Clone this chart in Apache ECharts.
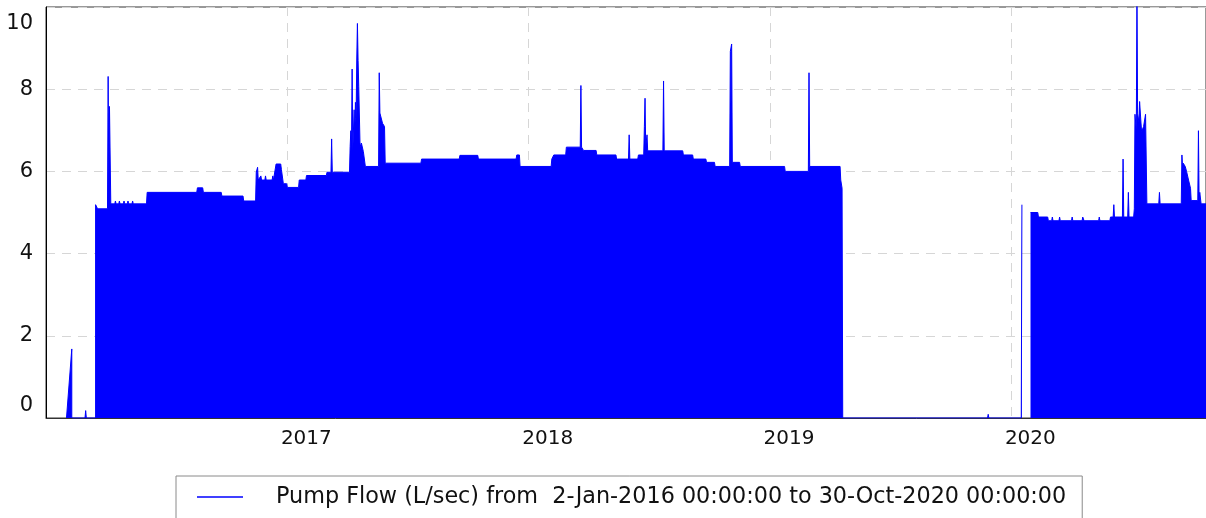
<!DOCTYPE html>
<html>
<head>
<meta charset="utf-8">
<script src="https://cdn.jsdelivr.net/npm/echarts@6/dist/echarts.min.js"></script>
<style>
  html, body { margin: 0; padding: 0; background: #fff; }
  #main-chart { width: 1206px; height: 518px; }
</style>
</head>
<body>
<div id="main-chart"></div>
<script>
// envelope of the pump flow record (date, L/sec)
const flow2016 = [
    ['2016-02-02', 0], ['2016-02-10', 1.68], ['2016-02-10', 0],
    ['2016-03-01', 0], ['2016-03-02', 0.18], ['2016-03-03', 0],
    ['2016-03-17', 0], ['2016-03-17', 5.19], ['2016-03-20', 5.19], ['2016-03-20', 5.09],
    ['2016-04-04', 5.09], ['2016-04-05', 8.31], ['2016-04-06', 5.6], ['2016-04-07', 7.58],
    ['2016-04-08', 7.58], ['2016-04-09', 5.21],
    ['2016-04-15', 5.21], ['2016-04-16', 5.28], ['2016-04-17', 5.21],
    ['2016-04-21', 5.21], ['2016-04-22', 5.28], ['2016-04-23', 5.21],
    ['2016-04-28', 5.21], ['2016-04-29', 5.28], ['2016-04-30', 5.21],
    ['2016-05-04', 5.21], ['2016-05-05', 5.28], ['2016-05-06', 5.21],
    ['2016-05-11', 5.21], ['2016-05-12', 5.28], ['2016-05-13', 5.21],
    ['2016-06-02', 5.21], ['2016-06-03', 5.49],
    ['2016-08-17', 5.49], ['2016-08-18', 5.60], ['2016-08-26', 5.60], ['2016-08-27', 5.49],
    ['2016-09-23', 5.49], ['2016-09-24', 5.40], ['2016-10-26', 5.40], ['2016-10-27', 5.28],
    ['2016-11-14', 5.28], ['2016-11-15', 5.98], ['2016-11-17', 6.10], ['2016-11-18', 5.79],
    ['2016-11-21', 5.79], ['2016-11-22', 5.89], ['2016-11-23', 5.79],
    ['2016-11-28', 5.79], ['2016-11-29', 5.89], ['2016-11-30', 5.79],
    ['2016-12-09', 5.79], ['2016-12-10', 5.89], ['2016-12-11', 5.79],
    ['2016-12-14', 5.79], ['2016-12-15', 6.18], ['2016-12-22', 6.18], ['2016-12-23', 6.05],
    ['2016-12-25', 6.05], ['2016-12-26', 5.70], ['2016-12-31', 5.70]
];
const flow2017 = [
    ['2017-01-01', 5.61], ['2017-01-18', 5.61], ['2017-01-19', 5.79], ['2017-01-29', 5.79],
    ['2017-01-30', 5.90], ['2017-03-01', 5.90], ['2017-03-02', 5.98], ['2017-03-08', 5.98],
    ['2017-03-09', 6.79], ['2017-03-10', 5.98],
    ['2017-04-05', 5.98], ['2017-04-06', 6.6], ['2017-04-07', 6.99], ['2017-04-08', 6.5],
    ['2017-04-09', 8.49], ['2017-04-10', 6.5], ['2017-04-12', 7.50], ['2017-04-13', 6.9],
    ['2017-04-14', 7.68], ['2017-04-15', 7.3], ['2017-04-16', 8.71], ['2017-04-17', 9.6],
    ['2017-04-18', 8.7], ['2017-04-19', 8.07], ['2017-04-21', 6.6], ['2017-04-23', 6.69],
    ['2017-04-26', 6.48], ['2017-04-29', 6.12],
    ['2017-05-19', 6.12], ['2017-05-20', 8.40], ['2017-05-21', 7.42], ['2017-05-25', 7.17],
    ['2017-05-28', 7.09], ['2017-05-29', 6.20],
    ['2017-07-22', 6.20], ['2017-07-23', 6.30], ['2017-09-18', 6.30], ['2017-09-19', 6.39],
    ['2017-10-16', 6.39], ['2017-10-17', 6.30], ['2017-12-13', 6.30], ['2017-12-14', 6.40],
    ['2017-12-18', 6.40], ['2017-12-19', 6.12]
];
const flow2018 = [
    ['2018-02-04', 6.12], ['2018-02-05', 6.30], ['2018-02-07', 6.30], ['2018-02-08', 6.40],
    ['2018-02-26', 6.40], ['2018-02-27', 6.59], ['2018-03-20', 6.59], ['2018-03-21', 8.09],
    ['2018-03-22', 6.59], ['2018-03-24', 6.59], ['2018-03-25', 6.51], ['2018-04-13', 6.51],
    ['2018-04-14', 6.40], ['2018-05-13', 6.40], ['2018-05-14', 6.30], ['2018-06-01', 6.30],
    ['2018-06-02', 6.89], ['2018-06-03', 6.30], ['2018-06-15', 6.30], ['2018-06-16', 6.40],
    ['2018-06-24', 6.40], ['2018-06-25', 7.09], ['2018-06-26', 7.78], ['2018-06-27', 6.6],
    ['2018-06-29', 6.89], ['2018-06-30', 6.50], ['2018-07-23', 6.50], ['2018-07-24', 8.20],
    ['2018-07-25', 6.50], ['2018-08-22', 6.50], ['2018-08-23', 6.40], ['2018-09-06', 6.40],
    ['2018-09-07', 6.30], ['2018-09-26', 6.30], ['2018-09-27', 6.22], ['2018-10-09', 6.22],
    ['2018-10-10', 6.12], ['2018-11-01', 6.12], ['2018-11-02', 8.92], ['2018-11-04', 9.10],
    ['2018-11-05', 6.22], ['2018-11-16', 6.22], ['2018-11-17', 6.12]
];
const flow2019 = [
    ['2019-01-23', 6.12], ['2019-01-24', 6.00], ['2019-02-28', 6.00], ['2019-03-01', 8.40],
    ['2019-03-02', 6.12], ['2019-04-17', 6.12], ['2019-04-18', 5.79], ['2019-04-20', 5.59],
    ['2019-04-21', 5.59], ['2019-04-21', 0], ['2019-11-26', 0], ['2019-11-27', 0.09],
    ['2019-11-28', 0]
];
const flow2020 = [
    ['2020-01-16', 0], ['2020-01-17', 5.19], ['2020-01-18', null],
    ['2020-01-30', 5.00], ['2020-02-10', 5.00], ['2020-02-11', 4.89], ['2020-02-25', 4.89],
    ['2020-02-26', 4.80], ['2020-03-02', 4.80], ['2020-03-03', 4.89], ['2020-03-04', 4.80],
    ['2020-03-13', 4.80], ['2020-03-14', 4.89], ['2020-03-15', 4.80],
    ['2020-04-01', 4.80], ['2020-04-02', 4.89], ['2020-04-03', 4.80],
    ['2020-04-17', 4.80], ['2020-04-18', 4.89], ['2020-04-20', 4.80],
    ['2020-05-12', 4.80], ['2020-05-13', 4.89], ['2020-05-14', 4.80],
    ['2020-05-29', 4.80], ['2020-05-30', 4.89], ['2020-06-03', 4.89], ['2020-06-04', 5.19],
    ['2020-06-05', 4.89], ['2020-06-17', 4.89], ['2020-06-18', 6.30], ['2020-06-19', 4.89],
    ['2020-06-25', 4.89], ['2020-06-26', 5.49], ['2020-06-27', 4.89], ['2020-07-04', 4.89],
    ['2020-07-05', 5.09], ['2020-07-06', 7.39], ['2020-07-08', 7.0], ['2020-07-09', 10.3],
    ['2020-07-10', 7.4], ['2020-07-12', 7.2], ['2020-07-13', 7.70], ['2020-07-15', 7.2],
    ['2020-07-16', 6.97], ['2020-07-19', 7.09], ['2020-07-22', 7.39], ['2020-07-24', 7.39],
    ['2020-07-24', 5.21], ['2020-08-11', 5.21], ['2020-08-12', 5.49], ['2020-08-13', 5.21],
    ['2020-09-14', 5.21], ['2020-09-15', 6.40], ['2020-09-16', 6.1], ['2020-09-17', 6.20],
    ['2020-09-20', 6.12], ['2020-09-22', 6.00], ['2020-09-25', 5.79], ['2020-09-28', 5.59],
    ['2020-09-29', 5.29], ['2020-10-09', 5.29], ['2020-10-10', 6.99], ['2020-10-11', 5.29],
    ['2020-10-12', 5.49], ['2020-10-14', 5.21], ['2020-10-30', 5.21]
];
const yTicks = [0, 2, 4, 6, 8, 10];
// the plot runs on past the right edge of the picture, so the visible window ends ~21 Oct
const xRange = ['2016-01-02', '2020-10-21 10:00'];
const seriesName = 'Pump Flow (L/sec) from  2-Jan-2016 00:00:00 to 30-Oct-2020 00:00:00';

const flowData = flow2016.concat(flow2017, flow2018, flow2019, flow2020);

const chartDom = document.getElementById('main-chart');
const myChart = echarts.init(chartDom, null, { renderer: 'canvas' });

const FONT = 'DejaVu Sans';
const BLUE = '#0000ff';
const gridDash = { color: '#d6d6d6', width: 1, type: [9, 7] };
const DAY = 24 * 3600 * 1000;

const option = {
    animation: false,
    backgroundColor: '#fff',
    grid: {
        left: 46, top: 7, right: 0, bottom: 100,
        show: true, borderColor: '#333', borderWidth: 1
    },
    legend: {
        data: [seriesName],
        left: 176, top: 476,
        padding: [10, 16, 40, 21],
        borderColor: '#8a8a8a', borderWidth: 1,
        icon: 'rect', itemWidth: 46, itemHeight: 1.4,
        itemStyle: { color: BLUE },
        textStyle: { fontFamily: FONT, fontSize: 22.3, color: '#111', padding: [0, 0, 0, 28] }
    },
    xAxis: {
        type: 'time',
        min: xRange[0], max: xRange[1],
        minInterval: 365 * DAY, maxInterval: 366 * DAY,
        axisLine: { show: true, lineStyle: { color: '#333', width: 1 } },
        axisTick: { show: false },
        splitLine: { show: true, lineStyle: gridDash },
        axisLabel: {
            fontFamily: FONT, fontSize: 20, color: '#111', margin: 11,
            padding: [0, 0, 0, 38],
            showMinLabel: false, showMaxLabel: false,
            formatter: v => String(new Date(v).getFullYear())
        }
    },
    yAxis: {
        type: 'value',
        min: yTicks[0], max: yTicks[yTicks.length - 1], interval: 2,
        axisLine: { show: true, lineStyle: { color: '#000', width: 1 } },
        axisTick: { show: false },
        splitLine: { show: true, lineStyle: gridDash },
        axisLabel: {
            fontFamily: FONT, fontSize: 21, color: '#111', margin: 13,
            formatter: v => v === 10 ? '{t|10}' : (v === 0 ? '{b|0}' : String(v)),
            rich: {
                t: { fontFamily: FONT, fontSize: 21, color: '#111', padding: [34, 0, 0, 0] },
                b: { fontFamily: FONT, fontSize: 21, color: '#111', padding: [0, 0, 24, 0] }
            }
        }
    },
    series: [{
        name: seriesName,
        type: 'line',
        data: flowData,
        symbol: 'none',
        showSymbol: false,
        sampling: null,
        connectNulls: false,
        clip: true,
        lineStyle: { color: BLUE, width: 1 },
        itemStyle: { color: BLUE },
        areaStyle: { color: BLUE, opacity: 1 }
    }]
};

myChart.setOption(option);
window.addEventListener('resize', () => myChart.resize());
</script>
</body>
</html>
